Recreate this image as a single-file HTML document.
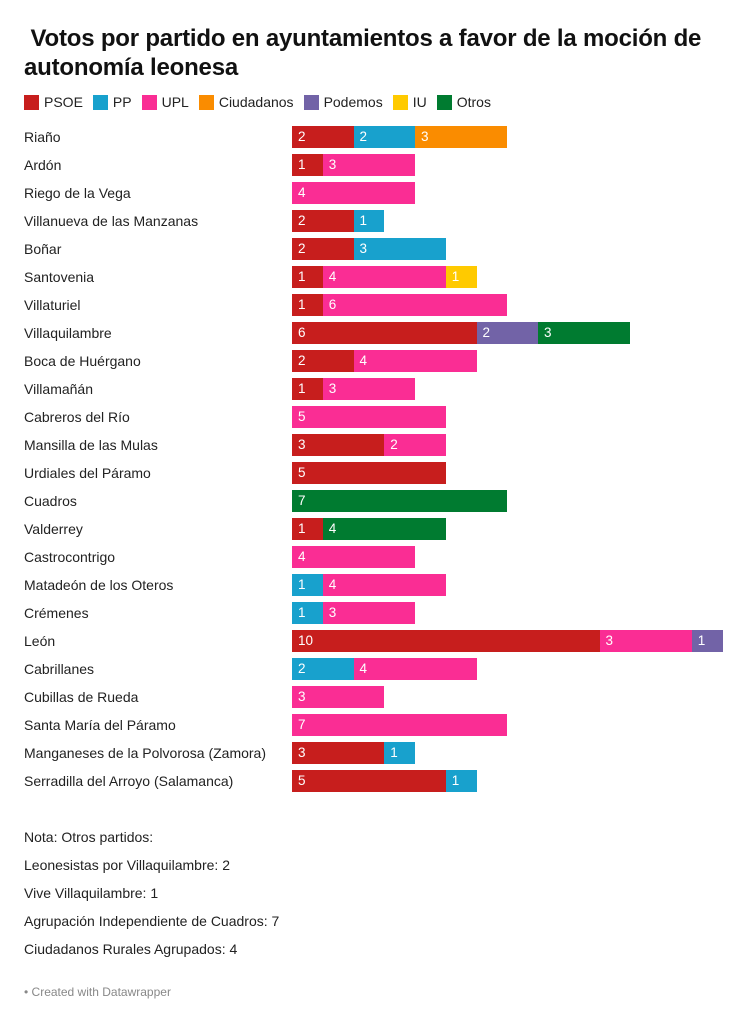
<!DOCTYPE html>
<html><head><meta charset="utf-8"><style>
body{margin:0;width:747px;height:1023px;background:#fff;font-family:"Liberation Sans",sans-serif;color:#222;position:relative;overflow:hidden}
.t{position:absolute;left:24px;top:24px;font-size:24px;font-weight:bold;line-height:29px;width:710px;color:#111;letter-spacing:-0.2px}
.lg{position:absolute;top:94px;left:24px;font-size:14px;display:flex;gap:0}
.lg span{display:inline-flex;align-items:center;margin-right:10px}
.lg i{display:inline-block;width:15px;height:15px;margin-right:5px}
.r{position:absolute;left:24px;font-size:14px;line-height:22px}
.b{position:absolute;height:22px;color:#fff;font-size:13.5px;line-height:22px;padding-left:6px;box-sizing:border-box}
.n{position:absolute;left:24px;font-size:14px}
</style></head><body>
<div class="t">&nbsp;Votos por partido en ayuntamientos a favor de la moción de autonomía leonesa</div>
<div class="lg">
<span><i style="background:#c71e1d"></i>PSOE</span>
<span><i style="background:#18a1cd"></i>PP</span>
<span><i style="background:#fa2d94"></i>UPL</span>
<span><i style="background:#fa8c00"></i>Ciudadanos</span>
<span><i style="background:#7263a7"></i>Podemos</span>
<span><i style="background:#ffca00"></i>IU</span>
<span><i style="background:#007b30"></i>Otros</span>
</div>
<div id="c"></div>
<div class="n" style="top:829px">Nota: Otros partidos:</div>
<div class="n" style="top:857px">Leonesistas por Villaquilambre: 2</div>
<div class="n" style="top:885px">Vive Villaquilambre: 1</div>
<div class="n" style="top:913px">Agrupación Independiente de Cuadros: 7</div>
<div class="n" style="top:941px">Ciudadanos Rurales Agrupados: 4</div>
<div style="position:absolute;left:24px;top:985px;font-size:12px;color:#888">• Created with Datawrapper</div>
<script>
var C={P:"#c71e1d",PP:"#18a1cd",U:"#fa2d94",C:"#fa8c00",Po:"#7263a7",I:"#ffca00",O:"#007b30"};
var d=[["Riaño",[["P",2],["PP",2],["C",3]]],["Ardón",[["P",1],["U",3]]],["Riego de la Vega",[["U",4]]],["Villanueva de las Manzanas",[["P",2],["PP",1]]],["Boñar",[["P",2],["PP",3]]],["Santovenia",[["P",1],["U",4],["I",1]]],["Villaturiel",[["P",1],["U",6]]],["Villaquilambre",[["P",6],["Po",2],["O",3]]],["Boca de Huérgano",[["P",2],["U",4]]],["Villamañán",[["P",1],["U",3]]],["Cabreros del Río",[["U",5]]],["Mansilla de las Mulas",[["P",3],["U",2]]],["Urdiales del Páramo",[["P",5]]],["Cuadros",[["O",7]]],["Valderrey",[["P",1],["O",4]]],["Castrocontrigo",[["U",4]]],["Matadeón de los Oteros",[["PP",1],["U",4]]],["Crémenes",[["PP",1],["U",3]]],["León",[["P",10],["U",3],["Po",1]]],["Cabrillanes",[["PP",2],["U",4]]],["Cubillas de Rueda",[["U",3]]],["Santa María del Páramo",[["U",7]]],["Manganeses de la Polvorosa (Zamora)",[["P",3],["PP",1]]],["Serradilla del Arroyo (Salamanca)",[["P",5],["PP",1]]]];
var h="",u=30.75;
d.forEach(function(r,i){var y=126+i*28;h+='<div class="r" style="top:'+y+'px">'+r[0]+'</div>';var x=292;r[1].forEach(function(s){var w=s[1]*u;h+='<div class="b" style="top:'+y+'px;left:'+x+'px;width:'+w+'px;background:'+C[s[0]]+'">'+s[1]+'</div>';x+=w;});});
document.getElementById("c").innerHTML=h;
</script>
</body></html>
